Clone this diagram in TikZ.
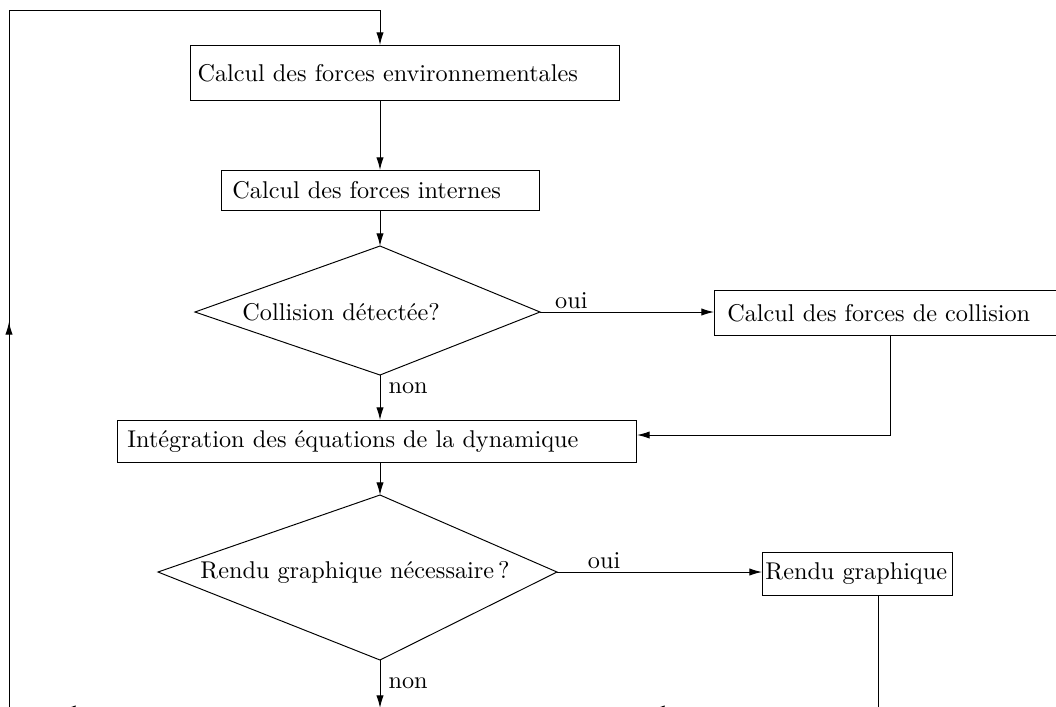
\documentclass[tikz,border=0pt]{standalone}
\usepackage{amsmath}
\usetikzlibrary{arrows.meta,decorations.markings}

\tikzset{
	stage/.style 2 args={draw, anchor=north west, align=left, text width=#1, inner xsep=#2, inner ysep=0pt},
	flow/.style={-{Latex[length=5.2pt,width=3pt]}},
	answer/.style={inner sep=1pt},
	loopmark/.style={decoration={markings, mark=at position 5.77cm with {\arrow{Latex[length=5.2pt,width=3pt]}}}, postaction={decorate}}
}

\begin{document}
\begin{tikzpicture}[x=0.0145cm, y=-0.0145cm]
		\useasboundingbox (0,0) rectangle (1056,706);
		\clip (0,0) rectangle (1056,706);
		% boites
		\node[stage={171.1pt}{2.9pt}, minimum height=22.6pt] (envforces) at (190,45) {Calcul des forces environnementales};
		\node[stage={122.1pt}{4.5pt}, minimum height=16.4pt] (intforces) at (221,170) {Calcul des forces internes};
		\node[stage={140pt}{5.3pt}, minimum height=18.5pt] (colforces) at (714,290) {Calcul des forces de collision};
		\node[stage={205.9pt}{4.1pt}, minimum height=17.3pt] (integ) at (117,420) {Int\'egration des \'equations de la dynamique};
		\node[stage={76pt}{1.2pt}, minimum height=17.7pt] (rendu) at (762,552) {Rendu graphique};
		% losanges
		\coordinate (colN) at (380,246);
		\coordinate (colE) at (540,312);
		\coordinate (colS) at (380,375);
		\coordinate (colW) at (195,312);
		\draw (colN) -- (colE) -- (colS) -- (colW) -- cycle;
		\node[anchor=west, inner sep=0pt] (coltest) at (242,312) {Collision d\'etect\'ee?};
		\coordinate (rendN) at (380,495);
		\coordinate (rendE) at (557,572);
		\coordinate (rendS) at (380,660);
		\coordinate (rendW) at (158,572);
		\draw (rendN) -- (rendE) -- (rendS) -- (rendW) -- cycle;
		\node[anchor=west, inner sep=0pt] (rendtest) at (200,572) {Rendu graphique n\'ecessaire\,?};
		% liaisons
		\coordinate (loopbot) at (9,720);
		\coordinate (looptop) at (9,10);
		\coordinate (colfall) at (890,435);
		\coordinate (rendfall) at (878,709);
		\coordinate (nextstep) at (380,708);
		\coordinate (mergeR) at (652,709);
		\coordinate (mergeLfrom) at (117,709);
		\coordinate (mergeL) at (63,709);
		\draw[flow, loopmark] (loopbot) -- (looptop) -| (envforces.north -| colN);
		\draw[flow] (envforces.south -| colN) -- (intforces.north -| colN);
		\draw[flow] (intforces.south -| colN) -- (colN);
		\draw[flow] (colE) -- node[answer, anchor=south, pos=0.18] {oui} (colE -| colforces.west);
		\draw[flow] (colS) -- node[right, pos=0.3] {non} (integ.north -| colS);
		\draw[flow] (colforces.south -| colfall) -- (colfall) -- (integ.east |- colfall);
		\draw[flow] (integ.south -| colS) -- (rendN);
		\draw[flow] (rendE) -- node[answer, anchor=south, pos=0.23] {oui} (rendE -| rendu.west);
		\draw[flow] (rendS) -- node[right, pos=0.48] {non} (nextstep);
		\draw[flow] (rendu.south -| rendfall) -- (rendfall) -- (mergeR);
		\draw[flow] (mergeLfrom) -- (mergeL);
	\end{tikzpicture}
\end{document}
